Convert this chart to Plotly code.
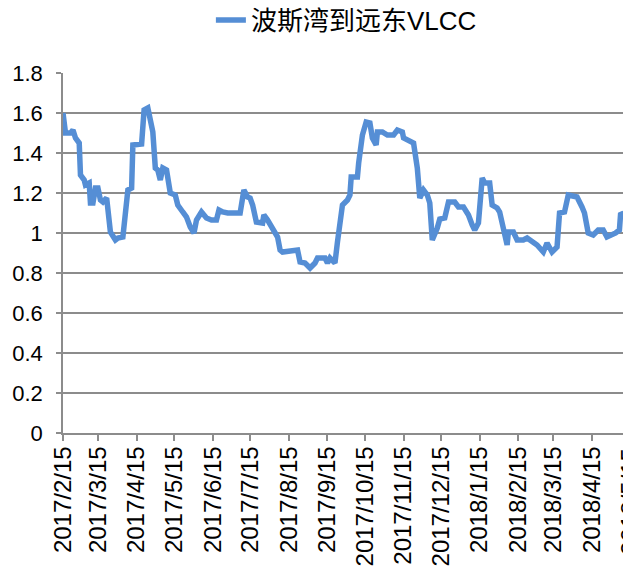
import plotly.graph_objects as go
from datetime import datetime

series_name = "波斯湾到远东VLCC"

dates = [
    "2017-02-15", "2017-02-17", "2017-02-21", "2017-02-23", "2017-02-25", "2017-02-28",
    "2017-03-01", "2017-03-04", "2017-03-05", "2017-03-08", "2017-03-09", "2017-03-11",
    "2017-03-13", "2017-03-15", "2017-03-17", "2017-03-19", "2017-03-22", "2017-03-25",
    "2017-03-29", "2017-03-31", "2017-04-04", "2017-04-06", "2017-04-08", "2017-04-11",
    "2017-04-12", "2017-04-19", "2017-04-21", "2017-04-24", "2017-04-27", "2017-04-28",
    "2017-04-30", "2017-05-02", "2017-05-04", "2017-05-06", "2017-05-09", "2017-05-12",
    "2017-05-16", "2017-05-18", "2017-05-22", "2017-05-25", "2017-05-28", "2017-05-31",
    "2017-06-02", "2017-06-06", "2017-06-10", "2017-06-14", "2017-06-18", "2017-06-20",
    "2017-06-23", "2017-06-27", "2017-07-07", "2017-07-10", "2017-07-13", "2017-07-15",
    "2017-07-17", "2017-07-20", "2017-07-25", "2017-07-26", "2017-07-29", "2017-08-02",
    "2017-08-06", "2017-08-08", "2017-08-10", "2017-08-22", "2017-08-24", "2017-08-28",
    "2017-09-01", "2017-09-05", "2017-09-07", "2017-09-13", "2017-09-15", "2017-09-17",
    "2017-09-21", "2017-09-23", "2017-09-25", "2017-09-27", "2017-10-01", "2017-10-03",
    "2017-10-04", "2017-10-09", "2017-10-10", "2017-10-13", "2017-10-16", "2017-10-19",
    "2017-10-21", "2017-10-24", "2017-10-25", "2017-10-29", "2017-11-02", "2017-11-07",
    "2017-11-10", "2017-11-14", "2017-11-15", "2017-11-20", "2017-11-23", "2017-11-26",
    "2017-11-28", "2017-12-01", "2017-12-04", "2017-12-06", "2017-12-08", "2017-12-12",
    "2017-12-14", "2017-12-18", "2017-12-21", "2017-12-26", "2017-12-29", "2018-01-02",
    "2018-01-06", "2018-01-09", "2018-01-11", "2018-01-14", "2018-01-17", "2018-01-19",
    "2018-01-23", "2018-01-25", "2018-01-29", "2018-01-31", "2018-02-03", "2018-02-06",
    "2018-02-07", "2018-02-11", "2018-02-14", "2018-02-19", "2018-02-22", "2018-02-27",
    "2018-03-02", "2018-03-07", "2018-03-10", "2018-03-14", "2018-03-18", "2018-03-20",
    "2018-03-24", "2018-03-27", "2018-04-03", "2018-04-07", "2018-04-09", "2018-04-12",
    "2018-04-16", "2018-04-20", "2018-04-24", "2018-04-27", "2018-05-01", "2018-05-04",
    "2018-05-07", "2018-05-08", "2018-05-10",
]

values = [
    1.60, 1.50, 1.50, 1.515, 1.475, 1.45,
    1.29, 1.265, 1.24, 1.25, 1.15, 1.15,
    1.225, 1.225, 1.165, 1.155, 1.175, 1.005,
    0.965, 0.975, 0.98, 1.14, 1.215, 1.225,
    1.44, 1.445, 1.615, 1.625, 1.53, 1.505,
    1.325, 1.315, 1.265, 1.325, 1.315, 1.20,
    1.19, 1.14, 1.105, 1.08, 1.03, 1.00,
    1.065, 1.105, 1.075, 1.065, 1.065, 1.115,
    1.105, 1.10, 1.10, 1.215, 1.18, 1.175,
    1.14, 1.055, 1.05, 1.09, 1.065, 1.025,
    0.98, 0.915, 0.905, 0.915, 0.855, 0.85,
    0.825, 0.85, 0.875, 0.875, 0.85, 0.875,
    0.85, 0.955, 1.075, 1.14, 1.165, 1.19,
    1.28, 1.28, 1.35, 1.49, 1.555, 1.55,
    1.475, 1.44, 1.505, 1.505, 1.49, 1.49,
    1.515, 1.505, 1.475, 1.455, 1.45, 1.325,
    1.175, 1.215, 1.19, 1.15, 0.965, 1.025,
    1.07, 1.075, 1.155, 1.155, 1.13, 1.13,
    1.09, 1.04, 1.015, 1.05, 1.275, 1.25,
    1.25, 1.14, 1.125, 1.105, 1.03, 0.94,
    1.005, 1.005, 0.965, 0.965, 0.975, 0.955,
    0.94, 0.905, 0.95, 0.905, 0.93, 1.10,
    1.105, 1.19, 1.18, 1.13, 1.10, 1.00,
    0.99, 1.015, 1.015, 0.98, 0.99, 1.00,
    1.015, 1.10, 1.09,
]

tick_dates = [
    "2017-02-15", "2017-03-15", "2017-04-15", "2017-05-15", "2017-06-15", "2017-07-15",
    "2017-08-15", "2017-09-15", "2017-10-15", "2017-11-15", "2017-12-15", "2018-01-15",
    "2018-02-15", "2018-03-15", "2018-04-15",
]
tick_labels = [
    "2017/2/15", "2017/3/15", "2017/4/15", "2017/5/15", "2017/6/15", "2017/7/15",
    "2017/8/15", "2017/9/15", "2017/10/15", "2017/11/15", "2017/12/15", "2018/1/15",
    "2018/2/15", "2018/3/15", "2018/4/15",
]
cut_tick_date = "2018-05-15"
cut_tick_label = "2018/5/15"

x_start = "2017-02-15"
x_end = "2018-05-09 21:00"

LINE = "#558ED5"
GRID = "#8C8C8C"
FONT = "Liberation Sans, Arial, Noto Sans CJK SC, sans-serif"
XFONT = 24

fig = go.Figure()
fig.add_trace(go.Scatter(
    x=dates, y=values, mode="lines", name=series_name,
    line=dict(color=LINE, width=5.5), showlegend=True,
))

# position of the partially visible last tick label (in paper coords)
t0 = datetime.fromisoformat(x_start)
t1 = datetime.fromisoformat(x_end)
tc = datetime.fromisoformat(cut_tick_date)
cut_frac = (tc - t0).total_seconds() / (t1 - t0).total_seconds()

fig.add_annotation(
    x=cut_frac, xref="paper", y=0, yref="paper", yshift=-13,
    text=cut_tick_label, textangle=-90, showarrow=False,
    xanchor="center", yanchor="top",
    font=dict(family=FONT, size=XFONT, color="#000000"),
)

fig.update_layout(
    width=623, height=572,
    margin=dict(l=63, r=0, t=73, b=139, pad=0),
    paper_bgcolor="white", plot_bgcolor="white",
    font=dict(family=FONT, color="#000000"),
    legend=dict(
        orientation="h", xref="container", yref="container",
        x=0.556, y=0.965, xanchor="center", yanchor="middle",
        font=dict(family=FONT, size=26, color="#000000"),
    ),
    xaxis=dict(
        type="date", range=[x_start, x_end],
        tickmode="array", tickvals=tick_dates, ticktext=tick_labels,
        tickangle=-90, showgrid=False, showline=True,
        linecolor=GRID, linewidth=1.5,
        ticks="outside", ticklen=6, tickcolor=GRID, tickwidth=1.5,
        tickfont=dict(family=FONT, size=XFONT, color="#000000"),
        ticklabelstandoff=-4,
        zeroline=False,
    ),
    yaxis=dict(
        range=[0, 1.8], dtick=0.2, tick0=0,
        showgrid=True, gridcolor=GRID, gridwidth=1.5,
        showline=True, linecolor=GRID, linewidth=1.5,
        ticks="outside", ticklen=5, tickcolor=GRID, tickwidth=1.5,
        tickfont=dict(family=FONT, size=22, color="#000000"),
        ticklabelstandoff=9,
        zeroline=False,
    ),
)

fig.write_html(
    "out.html",
    config={"displayModeBar": False},
    post_script="document.body.style.margin='0px';",
)
